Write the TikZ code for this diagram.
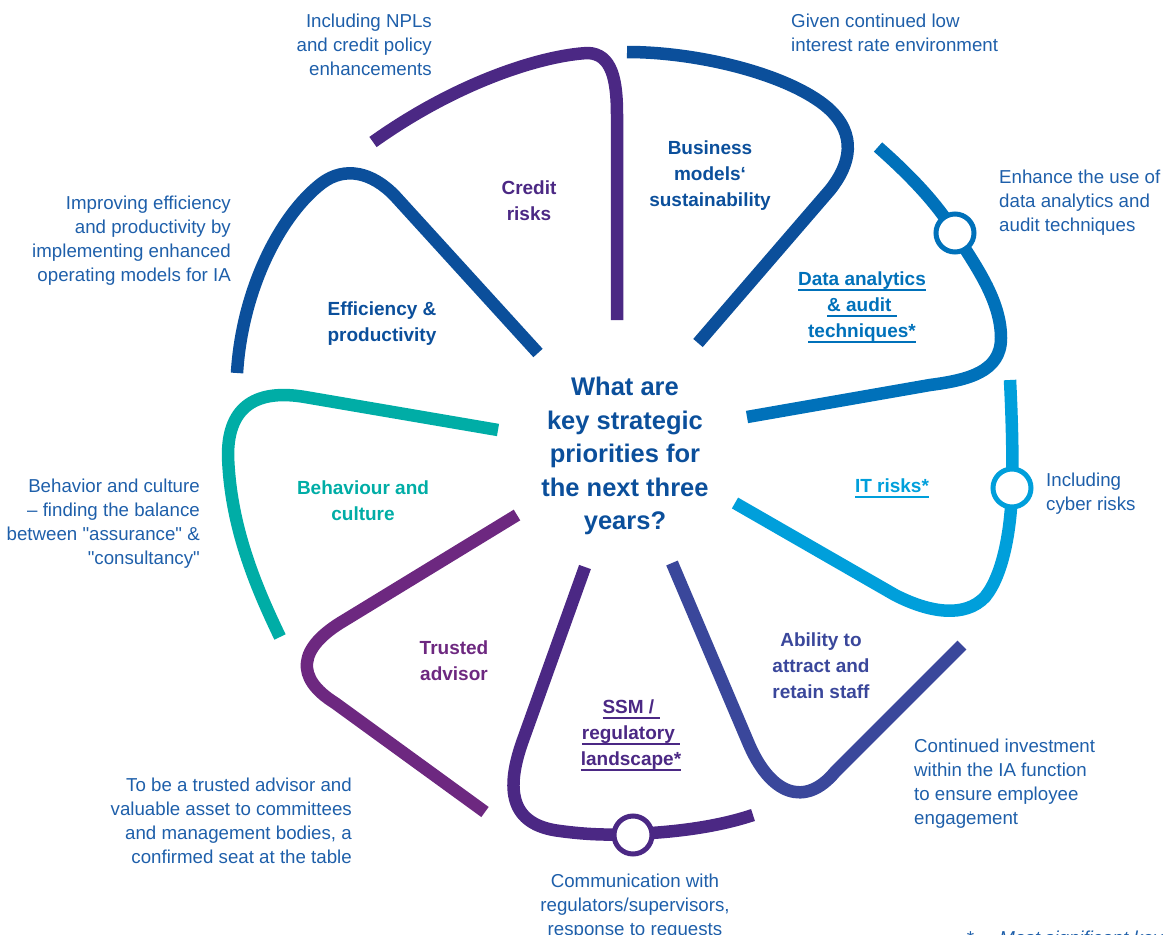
\documentclass[tikz,border=0pt]{standalone}
\usepackage{fontspec}
\setmainfont{Liberation Sans}
% same face without the TeX quote mapping, for straight quotes
\newfontfamily\qfont{Liberation Sans}
\definecolor{cDark}{HTML}{0B4F9B}
\definecolor{cPurple}{HTML}{4B2884}
\definecolor{cMid}{HTML}{0071BA}
\definecolor{cLight}{HTML}{009FDB}
\definecolor{cIndigo}{HTML}{3A479B}
\definecolor{cMagenta}{HTML}{6D2880}
\definecolor{cTeal}{HTML}{00ADA6}
\definecolor{cText}{HTML}{1E5FAA}
% underline with a fixed drop below the baseline
\newcommand\topicul[1]{\setbox0\hbox{#1}\rlap{\rule[-5.5pt]{\wd0}{1.4pt}}\box0}
% straight double quote
\newcommand\sq{{\qfont\symbol{34}}}
\begin{document}
\begin{tikzpicture}[x=1pt,y=-1pt,
  petal/.style={line width=12.5pt, line cap=butt, line join=round},
  ring/.style={circle, draw=#1, line width=5pt, fill=white, minimum size=38pt, inner sep=0pt},
  note/.style={text=cText, font=\fontsize{18.7}{24}\selectfont, inner sep=0pt},
  topic/.style={text=#1, font=\bfseries\fontsize{19}{26}\selectfont, align=center, inner sep=0pt},
]
\useasboundingbox (0,0) rectangle (1163,935);
\clip (0,0) rectangle (1163,935);

% petals
\draw[petal, cPurple] (373,142) .. controls (460,80) and (545,55) .. (588,53)
  .. controls (612,54) and (617,80) .. (617,115) -- (617,320);
\draw[petal, cDark] (627,52) .. controls (700,52) and (790,75) .. (828,108)
  .. controls (858,135) and (850,165) .. (830,190) -- (698,343);
\draw[petal, cMid] (878,147) .. controls (912,177) and (938,205) .. (955,233)
  .. controls (975,265) and (1001,300) .. (1001,338)
  .. controls (1001,372) and (968,380) .. (930,385) -- (747,417);
\draw[petal, cLight] (1010,380) .. controls (1012,420) and (1013,460) .. (1012,488)
  .. controls (1011,530) and (1003,575) .. (985,597)
  .. controls (965,618) and (930,613) .. (895,595) -- (735,503);
\draw[petal, cIndigo] (672,563) -- (748,742) .. controls (770,795) and (805,808) .. (835,772) -- (962,645);
\draw[petal, cPurple] (585,567) -- (523,740) .. controls (505,790) and (510,825) .. (560,831)
  .. controls (590,835) and (610,835) .. (633,834)
  .. controls (680,832) and (720,826) .. (753,815);
\draw[petal, cMagenta] (517,515) -- (345,620) .. controls (297,648) and (295,678) .. (335,703) -- (485,812);
\draw[petal, cTeal] (498,430) -- (305,397) .. controls (258,389) and (228,405) .. (228,455)
  .. controls (230,525) and (255,585) .. (280,637);
\draw[petal, cDark] (237,373) .. controls (242,290) and (280,215) .. (322,183)
  .. controls (345,166) and (372,172) .. (395,196) -- (538,353);

% rings on the petals
\node[ring=cMid] (rData) at (955,233) {};
\node[ring=cLight] (rIT) at (1012,488) {};
\node[ring=cPurple] (rSSM) at (633,835) {};

% centre question
\node[topic=cDark, font=\bfseries\fontsize{25.5}{33.5}\selectfont] (tQ) at (625,456)
  {What are\\key strategic\\priorities for\\the next three\\years?};

% topic labels
\node[topic=cPurple] (tCredit) at (529,201) {Credit\\risks};
\node[topic=cDark] (tBusiness) at (710,176) {Business\\models‘\\sustainability};
\node[topic=cMid] (tData) at (862,307)
  {\topicul{Data analytics}\\\topicul{\& audit\ }\\\topicul{techniques*}};
\node[topic=cLight] (tIT) at (892,488) {\topicul{IT risks*}};
\node[topic=cIndigo] (tStaff) at (821,666) {Ability to\\attract and\\retain staff};
\node[topic=cPurple] (tSSM) at (631,735)
  {\topicul{SSM /\ }\\\topicul{regulatory\ }\\\topicul{landscape*}};
\node[topic=cMagenta] (tTrusted) at (454,661) {Trusted\\advisor};
\node[topic=cTeal] (tBehav) at (363,501) {Behaviour and\\culture};
\node[topic=cDark] (tEff) at (382,324) {Efficiency \&\\productivity};

% explanatory notes
\node[note, anchor=east, align=right] (nNpl) at (432,45) {Including NPLs\\and credit policy\\enhancements};
\node[note, anchor=west, align=left] (nRate) at (791,33) {Given continued low\\interest rate environment};
\node[note, anchor=west, align=left] (nData) at (999,203) {Enhance the use of\\data analytics and\\audit techniques};
\node[note, anchor=west, align=left] (nCyber) at (1046,494) {Including\\cyber risks};
\node[note, anchor=west, align=left] (nStaff) at (914,784) {Continued investment\\within the IA function\\to ensure employee\\engagement};
\node[note, anchor=north, align=center] (nComm) at (635,874) {Communication with\\regulators/supervisors,\\response to requests};
\node[note, anchor=east, align=right] (nTrusted) at (352,821) {To be a trusted advisor and\\valuable asset to committees\\and management bodies, a\\confirmed seat at the table};
\node[note, anchor=east, align=right] (nBehav) at (200,524) {Behavior and culture\\– finding the balance\\between \sq assurance\sq{} \&\\\sq consultancy\sq};
\node[note, anchor=east, align=right] (nEff) at (231,241) {Improving efficiency\\and productivity by\\implementing enhanced\\operating models for IA};
\node[note, font=\itshape\fontsize{18.7}{24}\selectfont, anchor=base west] (nFoot) at (966,944)
  {*\hspace{26pt}Most significant key};
\end{tikzpicture}
\end{document}
